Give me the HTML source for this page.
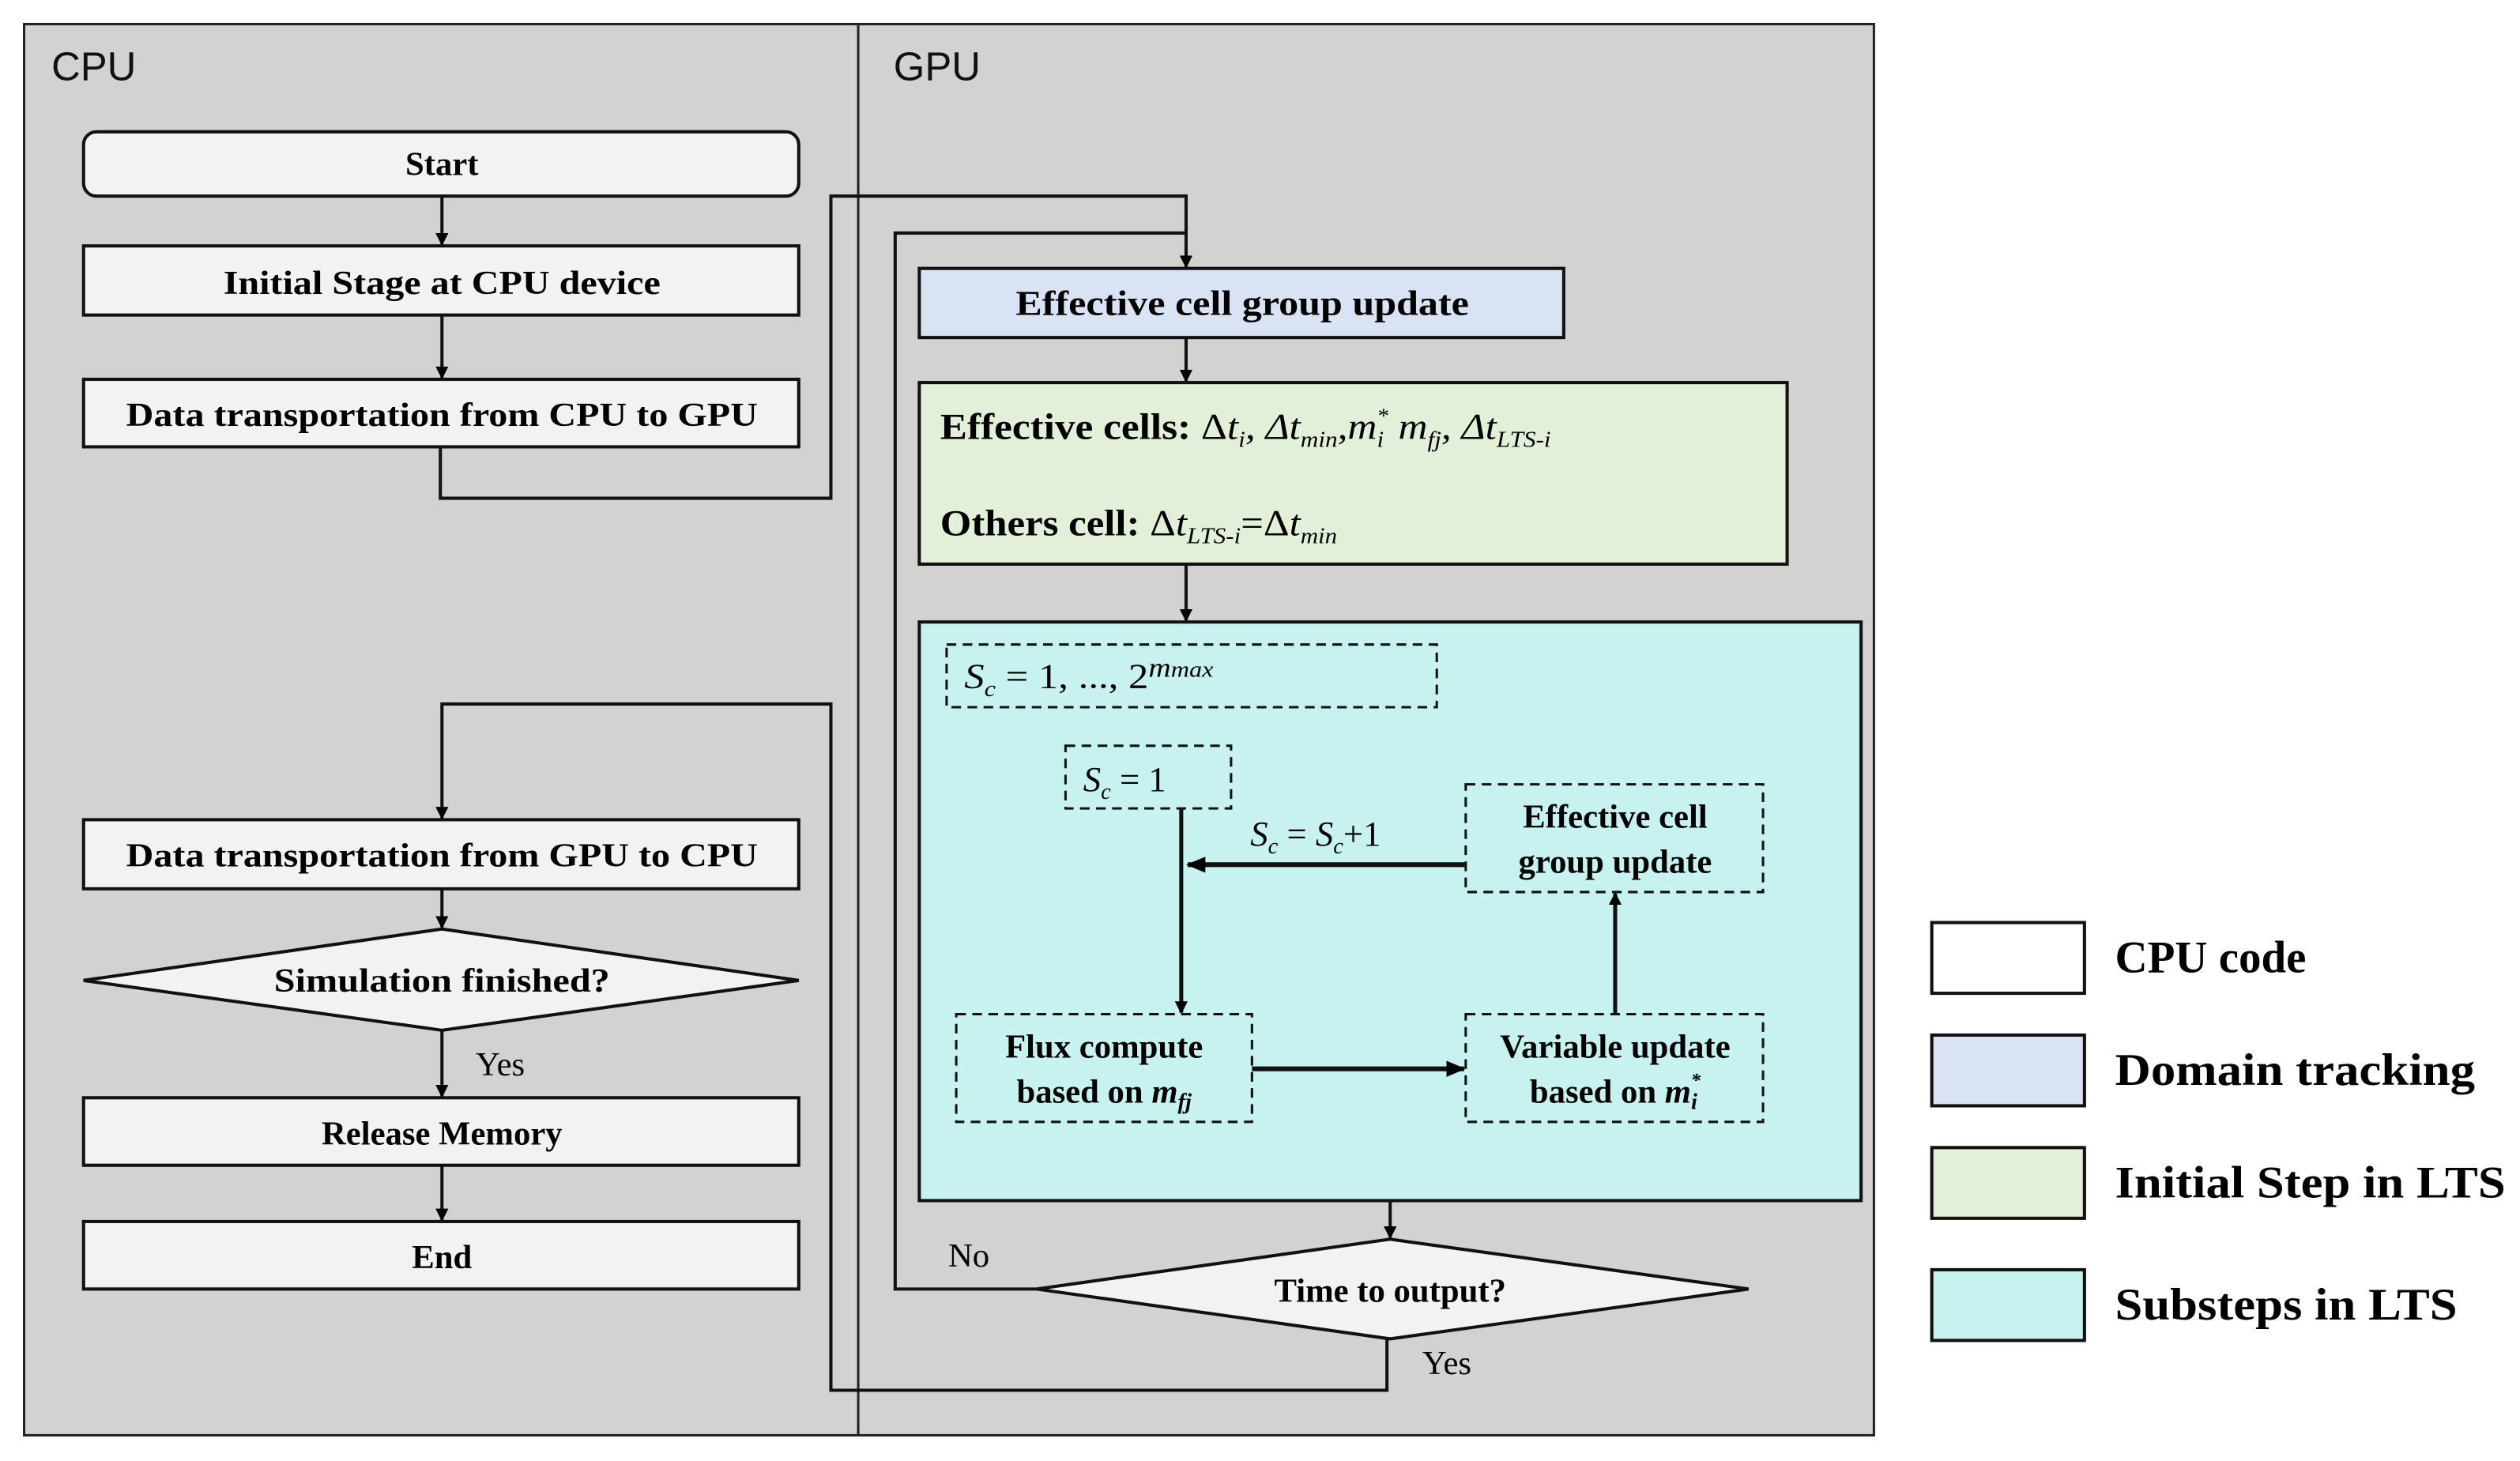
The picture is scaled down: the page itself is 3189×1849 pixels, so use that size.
<!DOCTYPE html>
<html><head><meta charset="utf-8"><style>html,body{margin:0;padding:0;background:#fff}svg{display:block}</style></head>
<body>
<svg width="3189" height="1849" viewBox="0 0 1568 909" preserveAspectRatio="none" xmlns="http://www.w3.org/2000/svg">
<defs>
<marker id="a" markerWidth="8" markerHeight="8" refX="7" refY="4" orient="auto" markerUnits="userSpaceOnUse"><path d="M0,0 L8,4 L0,8 Z" fill="#000"/></marker>
<marker id="b" markerWidth="12" markerHeight="12" refX="11" refY="6" orient="auto" markerUnits="userSpaceOnUse"><path d="M0,1 L12,6 L0,11 Z" fill="#000"/></marker>
</defs>
<rect x="0" y="0" width="1568" height="909" fill="#fff"/>
<rect x="15" y="15" width="1151" height="878" fill="#d4d2d0" stroke="#222" stroke-width="1.5"/>
<line x1="534" y1="15" x2="534" y2="893" stroke="#222" stroke-width="1.5"/>
<g font-family="Liberation Sans, sans-serif" font-size="25" fill="#111">
<text x="32" y="50">CPU</text><text x="556" y="50">GPU</text>
</g>
<g stroke="#111" stroke-width="2" fill="#f2f2f2">
<rect x="52" y="82" width="445" height="40" rx="8"/>
<rect x="52" y="153" width="445" height="43"/>
<rect x="52" y="236" width="445" height="42"/>
<rect x="52" y="510" width="445" height="43"/>
<polygon points="52,610 275,578 497,610 275,641"/>
<rect x="52" y="683" width="445" height="42"/>
<rect x="52" y="760" width="445" height="42"/>
<polygon points="645,802 865,771 1088,802 865,833"/>
<rect x="572" y="167" width="401" height="43" fill="#dae3f3"/>
<rect x="572" y="238" width="540" height="113" fill="#e2f0d9"/>
<rect x="572" y="387" width="586" height="360" fill="#c8f2f0"/>
</g>
<g stroke="#111" stroke-width="1.5" fill="none" stroke-dasharray="6,4">
<rect x="589" y="401" width="305" height="39"/>
<rect x="663" y="464" width="103" height="39"/>
<rect x="912" y="488" width="185" height="67"/>
<rect x="595" y="631" width="184" height="67"/>
<rect x="912" y="631" width="185" height="67"/>
</g>
<g stroke="#111" stroke-width="2" fill="none">
<line x1="275" y1="122" x2="275" y2="152" marker-end="url(#a)"/>
<line x1="275" y1="196" x2="275" y2="235" marker-end="url(#a)"/>
<polyline points="274,278 274,310 517,310 517,122 738,122 738,166" marker-end="url(#a)"/>
<polyline points="645,802 557,802 557,145 738,145"/>
<line x1="738" y1="210" x2="738" y2="237" marker-end="url(#a)"/>
<line x1="738" y1="351" x2="738" y2="386" marker-end="url(#a)"/>
<line x1="865" y1="747" x2="865" y2="770" marker-end="url(#a)"/>
<polyline points="863,833 863,865 517,865 517,438 275,438 275,509" marker-end="url(#a)"/>
<line x1="275" y1="553" x2="275" y2="577" marker-end="url(#a)"/>
<line x1="275" y1="641" x2="275" y2="682" marker-end="url(#a)"/>
<line x1="275" y1="725" x2="275" y2="759" marker-end="url(#a)"/>
<line x1="735" y1="503" x2="735" y2="630" marker-end="url(#a)" stroke-width="2.5"/>
<line x1="912" y1="538" x2="739" y2="538" marker-end="url(#b)" stroke-width="3"/>
<line x1="779" y1="665" x2="911" y2="665" marker-end="url(#b)" stroke-width="3"/>
<line x1="1005" y1="631" x2="1005" y2="556" marker-end="url(#a)" stroke-width="2.5"/>
</g>
<g font-family="Liberation Serif, serif" font-weight="bold" font-size="21" fill="#000" text-anchor="middle">
<text x="275" y="109">Start</text>
<text x="275" y="183" textLength="272" lengthAdjust="spacingAndGlyphs">Initial Stage at CPU device</text>
<text x="275" y="265" textLength="393" lengthAdjust="spacingAndGlyphs">Data transportation from CPU to GPU</text>
<text x="275" y="539" textLength="393" lengthAdjust="spacingAndGlyphs">Data transportation from GPU to CPU</text>
<text x="275" y="617" textLength="209" lengthAdjust="spacingAndGlyphs">Simulation finished?</text>
<text x="275" y="712">Release Memory</text>
<text x="275" y="789">End</text>
<text x="773" y="196" font-size="22" textLength="282" lengthAdjust="spacingAndGlyphs">Effective cell group update</text>
<text x="865" y="810">Time to output?</text>
<text x="1005" y="515">Effective cell</text>
<text x="1005" y="543">group update</text>
<text x="687" y="658">Flux compute</text>
<text x="687" y="686">based on <tspan font-style="italic">m<tspan font-size="14" dy="4">fj</tspan></tspan></text>
<text x="1005" y="658">Variable update</text>
<text x="1005" y="686">based on <tspan font-style="italic">m<tspan font-size="14" dy="4">i</tspan><tspan font-size="12" dx="-4" dy="-14">*</tspan></tspan></text>
</g>
<g font-family="Liberation Serif, serif" font-size="23" fill="#000">
<text x="585" y="273" textLength="380" lengthAdjust="spacingAndGlyphs"><tspan font-weight="bold">Effective cells:</tspan> Δ<tspan font-style="italic">t<tspan font-size="14" dy="5">i</tspan><tspan dy="-5">, Δt</tspan><tspan font-size="14" dy="5">min</tspan><tspan dy="-5">,m</tspan><tspan font-size="14" dy="5">i</tspan><tspan font-size="13" dx="-4" dy="-15">*</tspan><tspan dy="10"> m</tspan><tspan font-size="14" dy="5">fj</tspan><tspan dy="-5">, Δt</tspan><tspan font-size="14" dy="5">LTS-i</tspan></tspan></text>
<text x="585" y="333" textLength="247" lengthAdjust="spacingAndGlyphs"><tspan font-weight="bold">Others cell:</tspan> Δ<tspan font-style="italic">t<tspan font-size="14" dy="5">LTS-i</tspan><tspan dy="-5" font-style="normal">=Δ</tspan>t<tspan font-size="14" dy="5">min</tspan></tspan></text>
</g>
<g font-family="Liberation Serif, serif" font-size="22" fill="#000">
<text x="600" y="428" textLength="155" lengthAdjust="spacingAndGlyphs"><tspan font-style="italic">S<tspan font-size="14" dy="5">c</tspan></tspan><tspan dy="-5"> = 1, ..., 2</tspan><tspan font-style="italic" font-size="17" dy="-7">m<tspan font-size="14">max</tspan></tspan></text>
<text x="674" y="492"><tspan font-style="italic">S<tspan font-size="14" dy="5">c</tspan></tspan><tspan dy="-5"> = 1</tspan></text>
<text x="778" y="526"><tspan font-style="italic">S<tspan font-size="14" dy="5">c</tspan></tspan><tspan dy="-5"> = </tspan><tspan font-style="italic">S<tspan font-size="14" dy="5">c</tspan></tspan><tspan dy="-5">+1</tspan></text>
</g>
<g font-family="Liberation Serif, serif" font-size="21" fill="#000">
<text x="296" y="669">Yes</text>
<text x="590" y="788">No</text>
<text x="885" y="855">Yes</text>
</g>
<g stroke="#111" stroke-width="2">
<rect x="1202" y="574" width="95" height="44" fill="#ffffff"/>
<rect x="1202" y="644" width="95" height="44" fill="#dae3f3"/>
<rect x="1202" y="714" width="95" height="44" fill="#e2f0d9"/>
<rect x="1202" y="790" width="95" height="44" fill="#c8f2f0"/>
</g>
<g font-family="Liberation Serif, serif" font-weight="bold" font-size="28" fill="#000">
<text x="1316" y="605">CPU code</text>
<text x="1316" y="675" textLength="224" lengthAdjust="spacingAndGlyphs">Domain tracking</text>
<text x="1316" y="745" textLength="243" lengthAdjust="spacingAndGlyphs">Initial Step in LTS</text>
<text x="1316" y="821" textLength="213" lengthAdjust="spacingAndGlyphs">Substeps in LTS</text>
</g>
</svg>
</body></html>
